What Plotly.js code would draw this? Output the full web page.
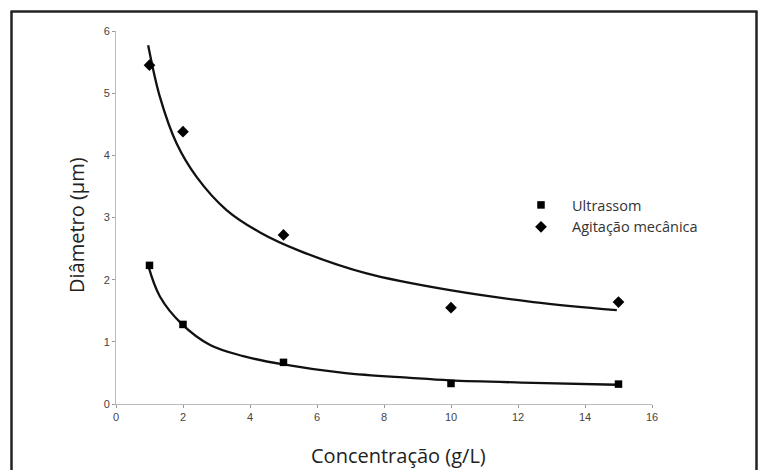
<!DOCTYPE html>
<html>
<head>
<meta charset="utf-8">
<script src="https://cdn.plot.ly/plotly-3.0.1.min.js"></script>
<style>html,body{margin:0;padding:0;background:#fff;}#chart{width:758px;height:470px;}</style>
</head>
<body>
<div id="chart"></div>
<script>
// Measured data points
var concentracao = [1, 2, 5, 10, 15];
var ultrassom = [2.23, 1.28, 0.67, 0.33, 0.32];
var agitacao = [5.45, 4.38, 2.72, 1.55, 1.64];

// Trend curves
var fitAgitX = [0.96, 1.31, 1.81, 2.41, 3.30, 4.30, 5.50, 7.48, 9.97, 12.46, 14.95];
var fitAgitY = [5.77, 4.94, 4.19, 3.65, 3.12, 2.76, 2.46, 2.10, 1.83, 1.64, 1.51];
var fitUltX = [0.96, 1.31, 1.96, 2.81, 3.80, 4.95, 6.79, 8.78, 9.97, 12.46, 14.95];
var fitUltY = [2.23, 1.73, 1.29, 0.95, 0.77, 0.64, 0.50, 0.42, 0.38, 0.34, 0.31];

var xTicks = [0, 2, 4, 6, 8, 10, 12, 14, 16];
var yTicks = [0, 1, 2, 3, 4, 5, 6];

var W = 758, H = 470;
var M = {l: 116, r: 106, t: 31, b: 66};
function px(xp) { return (xp - M.l) / (W - M.l - M.r); }
function py(yp) { return (H - M.b - yp) / (H - M.t - M.b); }

var tickFont = {family: 'Liberation Sans, Arial, sans-serif', size: 11, color: '#444'};

var traces = [
  {x: fitAgitX, y: fitAgitY, mode: 'lines', line: {color: '#111', width: 2.3, shape: 'spline', smoothing: 1}, showlegend: false, hoverinfo: 'skip'},
  {x: fitUltX, y: fitUltY, mode: 'lines', line: {color: '#111', width: 2.3, shape: 'spline', smoothing: 1}, showlegend: false, hoverinfo: 'skip'},
  {x: concentracao, y: ultrassom, mode: 'markers', name: 'Ultrassom', marker: {symbol: 'square', size: 7.5, color: '#000'}},
  {x: concentracao, y: agitacao, mode: 'markers', name: 'Agitação mecânica', marker: {symbol: 'diamond', size: 9, color: '#000'}}
];

var layout = {
  width: W, height: H,
  margin: M,
  paper_bgcolor: '#fff', plot_bgcolor: '#fff',
  showlegend: true,
  legend: {
    x: px(510), y: py(189), xanchor: 'left', yanchor: 'top',
    font: {family: 'Open Sans, sans-serif', size: 14.5, color: '#333'},
    itemwidth: 52, bgcolor: 'rgba(0,0,0,0)', tracegroupgap: 0
  },
  xaxis: {
    range: [0, 16], tickvals: xTicks, ticktext: xTicks.map(String),
    showgrid: false, zeroline: false, showline: true, linecolor: '#bbb', linewidth: 1,
    ticks: 'outside', ticklen: 3, tickcolor: '#999', tickfont: tickFont, fixedrange: true
  },
  yaxis: {
    range: [0, 6], tickvals: yTicks, ticktext: yTicks.map(String),
    showgrid: false, zeroline: false, showline: true, linecolor: '#bbb', linewidth: 1,
    ticks: 'outside', ticklen: 3, tickcolor: '#999', tickfont: tickFont, fixedrange: true
  },
  annotations: [
    {text: 'Concentração (g/L)', xref: 'paper', yref: 'paper', x: px(398), y: py(455), xanchor: 'center', yanchor: 'middle', showarrow: false, font: {family: 'Open Sans, sans-serif', size: 20, color: '#222'}},
    {text: 'Diâmetro (µm)', xref: 'paper', yref: 'paper', x: px(76), y: py(225), xanchor: 'center', yanchor: 'middle', textangle: -90, showarrow: false, font: {family: 'Open Sans, sans-serif', size: 20, color: '#222'}}
  ],
  shapes: [
    {type: 'line', xref: 'paper', yref: 'paper', x0: px(11.5), x1: px(11.5), y0: py(11.5), y1: py(472), line: {color: '#222', width: 2.5}},
    {type: 'line', xref: 'paper', yref: 'paper', x0: px(756.5), x1: px(756.5), y0: py(11.5), y1: py(472), line: {color: '#222', width: 2.5}},
    {type: 'line', xref: 'paper', yref: 'paper', x0: px(10.5), x1: px(757.5), y0: py(11.5), y1: py(11.5), line: {color: '#222', width: 2.5}}
  ]
};

Plotly.newPlot('chart', traces, layout, {displayModeBar: false, staticPlot: true});
</script>
</body>
</html>
